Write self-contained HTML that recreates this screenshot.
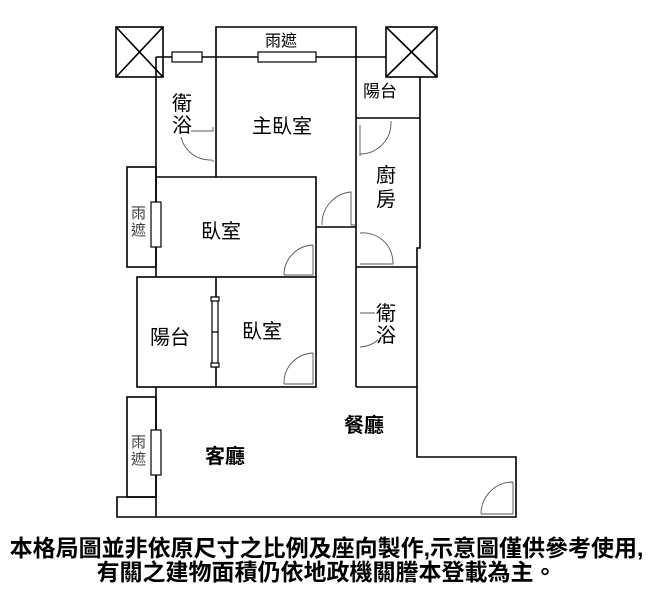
<!DOCTYPE html>
<html><head><meta charset="utf-8"><style>
html,body{margin:0;padding:0;background:#fff;width:653px;height:594px;overflow:hidden}
svg{position:absolute;left:0;top:0}
.t{font-family:"Liberation Sans","Noto Sans CJK TC",sans-serif;fill:#000}
.cap{position:absolute;left:0;width:653px;text-align:center;font-family:"Liberation Sans","Noto Sans CJK TC",sans-serif;font-weight:bold;font-size:23px;line-height:24px;color:#000;white-space:nowrap}
</style></head><body>
<svg width="653" height="594" viewBox="0 0 653 594">
<g stroke="#000" stroke-width="1.6" fill="none">
<rect x="116" y="27" width="47" height="50"/><line x1="116" y1="27" x2="163" y2="77"/><line x1="163" y1="27" x2="116" y2="77"/>
<rect x="386" y="27" width="51" height="50"/><line x1="386" y1="27" x2="437" y2="77"/><line x1="437" y1="27" x2="386" y2="77"/>
<polyline points="216,57 216,27 356,27 356,57"/>
<line x1="156" y1="57" x2="386" y2="57"/>
<line x1="156" y1="57" x2="156" y2="277"/>
<rect x="127" y="167" width="29" height="100"/>
<line x1="216" y1="57" x2="216" y2="177"/>
<polyline points="156,177 316,177 316,277"/>
<line x1="316" y1="227" x2="356" y2="227"/>
<line x1="356" y1="57" x2="356" y2="387"/>
<polyline points="420,77 420,248 417,248 417,457 516,457 516,517 117,517 117,497 156,497"/>
<line x1="356" y1="118" x2="420" y2="118"/>
<line x1="356" y1="267" x2="417" y2="267"/>
<line x1="356" y1="387" x2="417" y2="387"/>
<rect x="137" y="277" width="179" height="110"/>
<line x1="216" y1="277" x2="216" y2="387"/>
<line x1="156" y1="387" x2="156" y2="517"/>
<rect x="127" y="397" width="29" height="100"/>
</g>
<g stroke="#000" stroke-width="1.2" fill="#fff">
<rect x="172" y="52" width="30" height="10"/>
<rect x="258" y="52" width="58" height="10"/>
<rect x="151" y="202" width="10" height="45"/>
<rect x="151" y="430" width="10" height="45"/>
<rect x="212" y="297" width="6" height="35"/>
<rect x="212" y="332" width="6" height="35"/>
<rect x="211" y="297" width="8" height="4"/>
<rect x="211" y="363" width="8" height="4"/>
</g>
<g stroke="#555" stroke-width="0.9" fill="none">
<path d="M181,137 A30,30 0 0 0 212,160"/><polyline points="191,131 213,131 213,127"/><line x1="213" y1="160" x2="213" y2="162"/>
<path d="M360,156 L360,125 M360,154 A31,31 0 0 0 391,124 L391,121"/>
<path d="M322,225 A32,32 0 0 1 351,192 L351,225 L355,225"/>
<path d="M360,233 A30,30 0 0 1 393,264 L360,264"/>
<path d="M284,275 A30,30 0 0 1 313,245 M284,275 L313,275 L313,245"/>
<path d="M284,384 A30,30 0 0 1 313,353 M284,384 L313,384 L313,353"/>
<path d="M360,313 L375,313 M360,347 A30,30 0 0 0 378,340"/>
<path d="M481,514 A32,32 0 0 1 513,482 M481,514 L513,514 L513,482"/>
</g>
<g class="t">
<text x="265" y="46" font-size="16">雨遮</text>
<text x="363" y="97" font-size="17">陽台</text>
<text x="172" y="110" font-size="20">衛</text>
<text x="172" y="132" font-size="20">浴</text>
<text x="252" y="133" font-size="20">主臥室</text>
<text x="376" y="182" font-size="20">廚</text>
<text x="376" y="206" font-size="20">房</text>
<text x="131" y="218" font-size="15" fill="#444">雨</text>
<text x="131" y="235" font-size="15" fill="#444">遮</text>
<text x="201" y="238" font-size="20">臥室</text>
<text x="150" y="344" font-size="20">陽台</text>
<text x="242" y="338" font-size="20">臥室</text>
<text x="376" y="320" font-size="20">衛</text>
<text x="376" y="342" font-size="20">浴</text>
<text x="344" y="432" font-size="20" font-weight="bold">餐廳</text>
<text x="205" y="463" font-size="20" font-weight="bold">客廳</text>
<text x="131" y="447" font-size="15" fill="#444">雨</text>
<text x="131" y="464" font-size="15" fill="#444">遮</text>
</g>
</svg>
<div class="cap" style="top:536px">本格局圖並非依原尺寸之比例及座向製作,示意圖僅供參考使用,</div>
<div class="cap" style="top:560px">有關之建物面積仍依地政機關謄本登載為主。</div>
</body></html>
